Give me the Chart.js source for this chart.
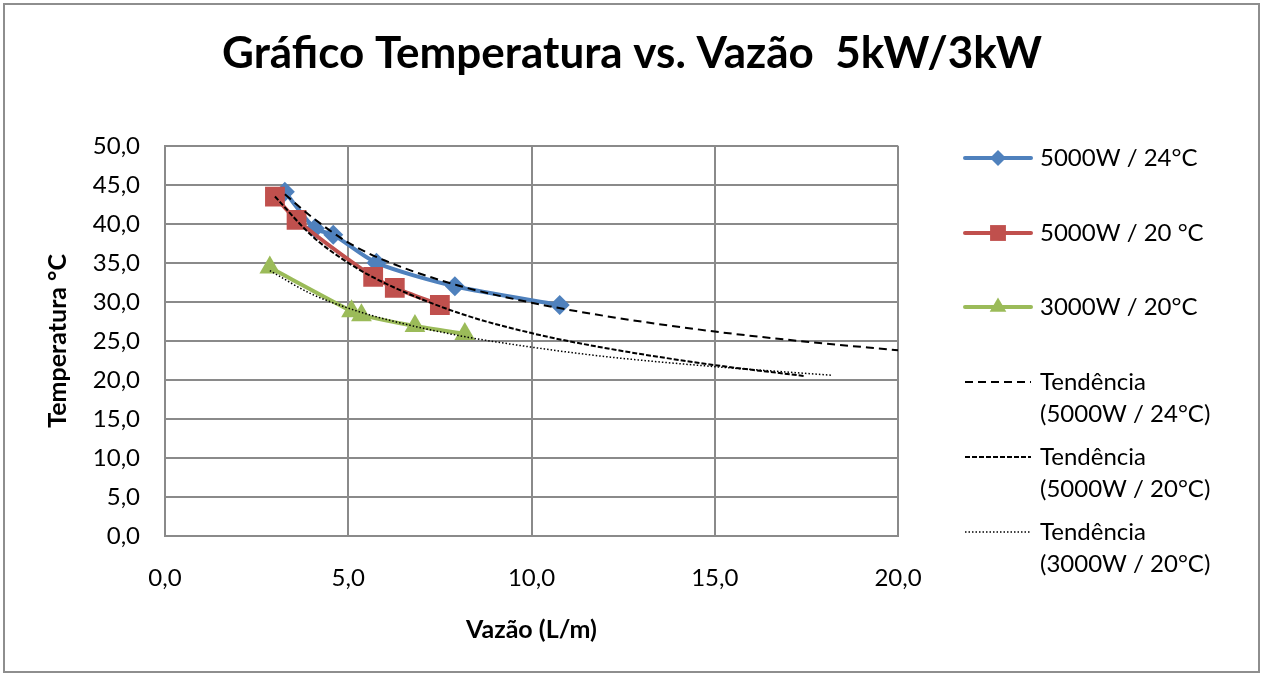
<!DOCTYPE html>
<html>
<head>
<meta charset="utf-8">
<script src="https://cdn.jsdelivr.net/npm/chart.js@4.4.1/dist/chart.umd.min.js"></script>
<style>
  html, body { margin: 0; padding: 0; background: #fff; }
  #wrap { position: relative; width: 1264px; height: 677px; }
  #frame { position: absolute; left: 3px; top: 3px; width: 1257px; height: 670px; box-sizing: border-box; border: 2px solid #8e8e8e; }
  canvas { position: absolute; left: 0; top: 0; }
</style>
</head>
<body>
<div id="wrap">
  <div id="frame"></div>
  <canvas id="chart" width="1264" height="677"></canvas>
</div>
<script>
const flow24 = [3.27, 4.09, 4.59, 5.77, 7.91, 10.77];
const temp24 = [44.1, 39.4, 38.6, 35.0, 32.0, 29.6];
const flow20 = [3.0, 3.59, 5.68, 6.27, 7.50];
const temp20 = [43.5, 40.5, 33.2, 31.8, 29.6];
const flow3k = [2.86, 5.09, 5.36, 6.82, 8.18];
const temp3k = [34.4, 28.8, 28.3, 26.9, 25.9];

// trend lines, also
const trendFlow24 = [3.27, 4, 5, 6, 8, 10, 12, 15, 17.5, 20];
const trendTemp24 = [43.8, 40.9, 37.6, 35.3, 32.1, 29.9, 28.2, 26.2, 24.9, 23.8];
const trendFlow20 = [3.0, 4, 5, 6, 8, 10, 12, 15, 17.45];
const trendTemp20 = [43.5, 38.5, 35.0, 32.4, 28.6, 26.0, 24.1, 21.9, 20.5];
const trendFlow3k = [2.86, 4, 5, 6, 8, 10, 12, 15, 18.18];
const trendTemp3k = [34.0, 31.0, 29.2, 27.8, 25.7, 24.2, 23.0, 21.7, 20.6];

// tick labels
const xTicks = ['0,0', '5,0', '10,0', '15,0', '20,0'];
const yTicks = ['0,0', '5,0', '10,0', '15,0', '20,0', '25,0', '30,0', '35,0', '40,0', '45,0', '50,0'];

const pts = (xs, ys) => xs.map((x, i) => ({ x: x, y: ys[i] }));

Chart.defaults.font.family = 'Lato, Calibri, sans-serif';
Chart.defaults.color = '#000';

// legend drawn on the right, with two-line labels like the original
const legendRows = [158, 233, 307, 382, 457, 532];
const sideLegend = {
    id: 'sideLegend',
    afterDraw(chart) {
        const ctx = chart.ctx;
        chart.data.datasets.forEach((ds, i) => {
            const y = legendRows[i];
            ctx.save();
            ctx.strokeStyle = ds.borderColor;
            ctx.lineWidth = ds.borderWidth;
            ctx.setLineDash(ds.borderDash || []);
            ctx.lineCap = ds.pointRadius ? 'round' : 'butt';
            ctx.beginPath();
            ctx.moveTo(965, y);
            ctx.lineTo(1031, y);
            ctx.stroke();
            if (ds.pointRadius) {
                ctx.fillStyle = ds.backgroundColor;
                Chart.helpers.drawPoint(ctx, { pointStyle: ds.pointStyle, radius: ds.pointRadius * 0.8, borderWidth: 0 }, 998, y);
            }
            ctx.setLineDash([]);
            ctx.fillStyle = '#000';
            ctx.font = '24px Lato, Calibri, sans-serif';
            ctx.textBaseline = 'middle';
            ds.label.split('\n').forEach((line, k) => ctx.fillText(line, 1040, y + k * 32));
            ctx.restore();
        });
    }
};

new Chart(document.getElementById('chart'), {
    type: 'line',
    data: {
        datasets: [
            {
                label: '5000W / 24°C',
                data: pts(flow24, temp24),
                borderColor: '#4F81BD', backgroundColor: '#4F81BD',
                borderWidth: 4, pointStyle: 'rectRot', pointRadius: 10, pointBorderWidth: 0,
                tension: 0.25, order: 3
            },
            {
                label: '5000W / 20 °C',
                data: pts(flow20, temp20),
                borderColor: '#C0504D', backgroundColor: '#C0504D',
                borderWidth: 4, pointStyle: 'rect', pointRadius: 14, pointBorderWidth: 0,
                tension: 0.25, order: 2
            },
            {
                label: '3000W / 20°C',
                data: pts(flow3k, temp3k),
                borderColor: '#9BBB59', backgroundColor: '#9BBB59',
                borderWidth: 4, pointStyle: 'triangle', pointRadius: 12, pointBorderWidth: 0,
                tension: 0.25, order: 1
            },
            {
                label: 'Tendência\n(5000W / 24°C)',
                data: pts(trendFlow24, trendTemp24),
                borderColor: '#000', borderWidth: 2, borderDash: [8, 5],
                pointRadius: 0, cubicInterpolationMode: 'monotone', order: 0
            },
            {
                label: 'Tendência\n(5000W / 20°C)',
                data: pts(trendFlow20, trendTemp20),
                borderColor: '#000', borderWidth: 2, borderDash: [5, 2],
                pointRadius: 0, cubicInterpolationMode: 'monotone', order: 0
            },
            {
                label: 'Tendência\n(3000W / 20°C)',
                data: pts(trendFlow3k, trendTemp3k),
                borderColor: '#000', borderWidth: 1.5, borderDash: [1.5, 2],
                pointRadius: 0, cubicInterpolationMode: 'monotone', order: 0
            }
        ]
    },
    options: {
        responsive: false,
        animation: false,
        devicePixelRatio: 1,
        layout: { padding: 0 },
        scales: {
            x: {
                type: 'linear', min: 0, max: 20,
                afterFit(s) { s.height = 141; },
                ticks: { stepSize: 5, padding: 28, font: { size: 24 }, callback: v => xTicks[v / 5] },
                grid: { color: '#8a8a8a', lineWidth: 2, drawTicks: false },
                border: { color: '#8a8a8a', width: 2 },
                title: { display: true, text: 'Vazão (L/m)', font: { size: 25, weight: 'bold' }, padding: { bottom: 32 } }
            },
            y: {
                type: 'linear', min: 0, max: 50,
                afterFit(s) { s.width = 165; },
                ticks: { stepSize: 5, padding: 25, font: { size: 24 }, callback: v => yTicks[v / 5] },
                grid: { color: '#8a8a8a', lineWidth: 2, drawTicks: false },
                border: { color: '#8a8a8a', width: 2 },
                title: { display: true, text: 'Temperatura °C', font: { size: 25, weight: 'bold' }, padding: { top: 43 } }
            },
            // empty axis that keeps room for the legend on the right
            side: {
                type: 'linear', position: 'right', display: true,
                afterFit(s) { s.width = 366; },
                ticks: { display: false },
                grid: { display: false },
                border: { display: false }
            }
        },
        plugins: {
            title: {
                display: true,
                text: 'Gráfico Temperatura vs. Vazão  5kW/3kW',
                color: '#000',
                font: { size: 44, weight: 'bold' },
                padding: { top: 27, bottom: 66 }
            },
            legend: { display: false },
            tooltip: { enabled: false }
        }
    },
    plugins: [sideLegend]
});
</script>
</body>
</html>
